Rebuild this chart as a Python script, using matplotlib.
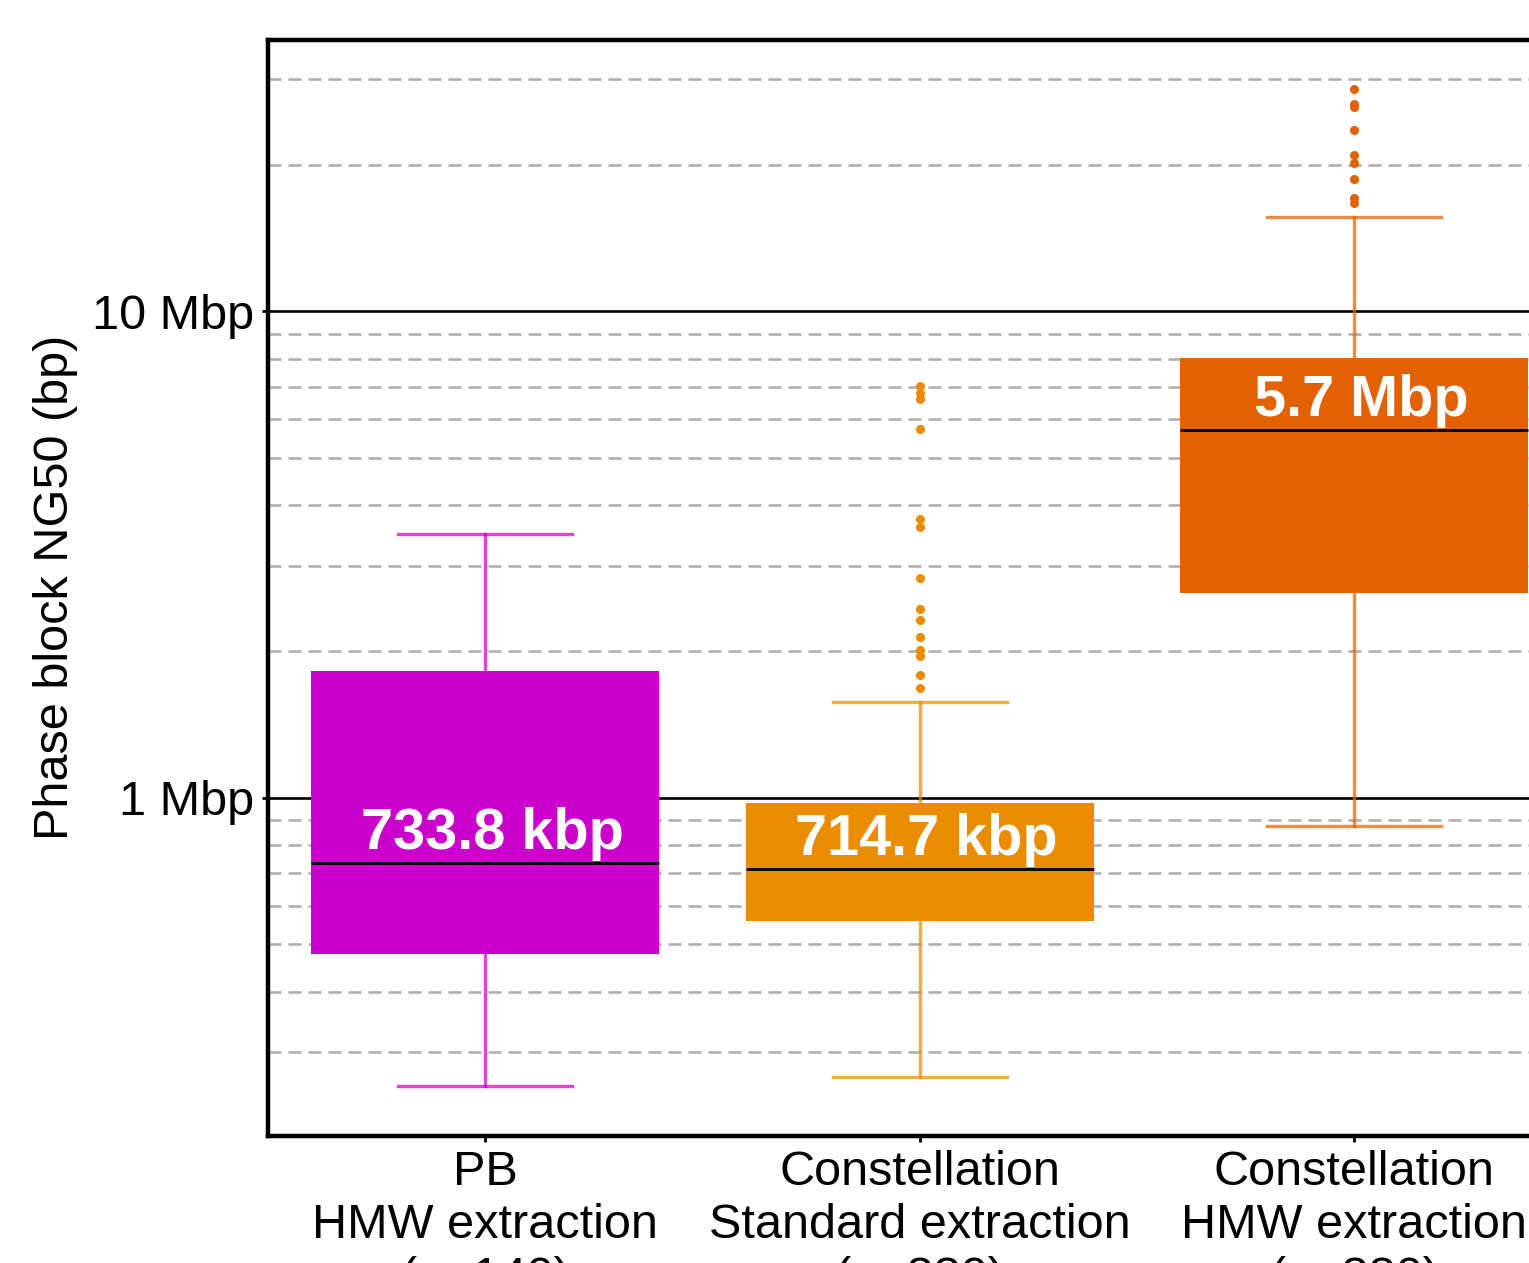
import matplotlib
matplotlib.use("Agg")
import matplotlib.pyplot as plt
from matplotlib.ticker import FixedLocator, FixedFormatter, NullFormatter

plt.rcParams["font.family"] = ["Liberation Sans", "DejaVu Sans"]

# Phase block NG50 per sequencing / extraction group (bp)
groups = ["PB\nHMW extraction\n(n=140)",
          "Constellation\nStandard extraction\n(n=880)",
          "Constellation\nHMW extraction\n(n=880)"]
q1 = [478e3, 559e3, 2.64e6]
medians = [733.8e3, 714.7e3, 5.7e6]
q3 = [1.823e6, 977e3, 8.01e6]
whisker_low = [256e3, 267e3, 876e3]
whisker_high = [3.48e6, 1.575e6, 15.6e6]
outliers = [
    [],
    [7.01e6, 6.79e6, 6.60e6, 5.72e6, 3.74e6, 3.60e6, 2.83e6, 2.45e6,
     2.32e6, 2.14e6, 2.01e6, 1.96e6, 1.79e6, 1.68e6],
    [28.6e6, 26.7e6, 26.3e6, 23.6e6, 21.0e6, 20.2e6, 18.7e6, 17.1e6, 16.7e6],
]
median_labels = ["733.8 kbp", "714.7 kbp", "5.7 Mbp"]
box_colors = ["#CC00CC", "#EB8C00", "#E36100"]

major_ticks = [1e6, 1e7]
major_tick_labels = ["1 Mbp", "10 Mbp"]
minor_ticks = [3e5, 4e5, 5e5, 6e5, 7e5, 8e5, 9e5,
               2e6, 3e6, 4e6, 5e6, 6e6, 7e6, 8e6, 9e6,
               2e7, 3e7]

W, H, DPI = 1529, 1263, 100
fig = plt.figure(figsize=(W / DPI, H / DPI), dpi=DPI)
ax = fig.add_axes([268 / W, (H - 1136) / H, 1303.5 / W, (1136 - 39.5) / H])

ax.set_yscale("log")
ax.set_ylim(2.02e5, 36.2e6)
ax.set_xlim(-0.5, 2.5)

# grid: solid black at decades, dashed grey in between
for y in major_ticks:
    ax.axhline(y, color="black", lw=1.9, zorder=0.5)
lw_minor = 1.9
for y in minor_ticks:
    ax.axhline(y, color="#b0b0b0", lw=lw_minor, zorder=0.4,
               linestyle=(0, (13 * 0.72 / lw_minor, 7 * 0.72 / lw_minor)))

stats = []
for i in range(len(groups)):
    stats.append(dict(q1=q1[i], med=medians[i], q3=q3[i],
                      whislo=whisker_low[i], whishi=whisker_high[i],
                      fliers=outliers[i]))

positions = list(range(len(groups)))
for i, st in enumerate(stats):
    c = box_colors[i]
    ax.bxp([st], positions=[positions[i]], widths=0.8, capwidths=0.4,
           patch_artist=True, showfliers=True,
           boxprops=dict(facecolor=c, edgecolor="none", linewidth=0),
           medianprops=dict(color="black", linewidth=2.0),
           whiskerprops=dict(color=c, linewidth=2.4, alpha=0.72),
           capprops=dict(color=c, linewidth=2.4, alpha=0.72),
           flierprops=dict(marker="o", markerfacecolor=c, markeredgecolor="none",
                           markersize=6.5, linestyle="none"),
           zorder=2)

for i, lab in enumerate(median_labels):
    ax.annotate(lab, xy=(positions[i], medians[i]), xytext=(5, 1.5),
                textcoords="offset points", ha="center", va="bottom",
                color="white", fontsize=41.5, fontweight="bold", zorder=5)

ax.yaxis.set_major_locator(FixedLocator(major_ticks))
ax.yaxis.set_major_formatter(FixedFormatter(major_tick_labels))
ax.yaxis.set_minor_locator(FixedLocator(minor_ticks))
ax.yaxis.set_minor_formatter(NullFormatter())
ax.tick_params(axis="y", which="minor", length=0)
ax.tick_params(axis="y", which="major", labelsize=35, length=4, width=2, pad=6)

ax.set_xticks(positions)
ax.set_xticklabels(groups, fontsize=35, linespacing=1.23)
ax.tick_params(axis="x", which="major", length=4, width=2, pad=6)

ax.set_ylabel("Phase block NG50 (bp)", fontsize=35, labelpad=10)

for s in ax.spines.values():
    s.set_linewidth(3.2)
    s.set_color("black")

fig.savefig("out.png", dpi=DPI)
